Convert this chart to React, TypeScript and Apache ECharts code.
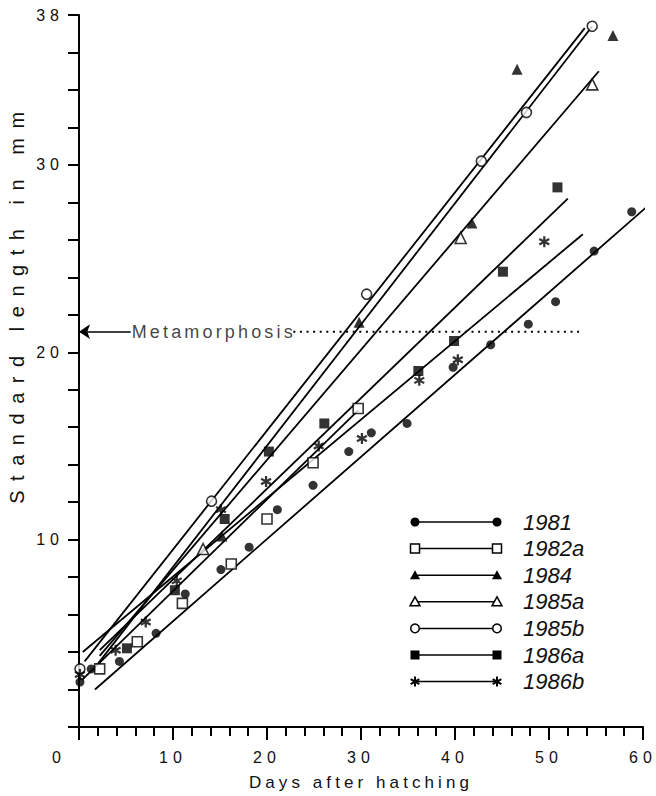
import React, { useEffect, useRef } from 'react';
import * as echarts from 'echarts';

// Year classes shown in the key, top to bottom
const yearLabels = ['1981', '1982a', '1984', '1985a', '1985b', '1986a', '1986b'];

// Standard length (mm) against days after hatching, per year class
const length1981 = [
  [0.1, 2.4], [1.3, 3.1], [4.3, 3.5], [8.2, 5.0], [11.3, 7.1], [15.1, 8.4],
  [18.1, 9.6], [21.1, 11.6], [24.9, 12.9], [28.7, 14.7], [31.1, 15.7], [34.9, 16.2],
  [39.8, 19.2], [43.8, 20.4], [47.8, 21.5], [50.7, 22.7], [54.8, 25.4], [58.8, 27.5],
];
const length1982a = [
  [2.2, 3.1], [6.2, 4.55], [11.0, 6.6], [16.2, 8.7], [20.0, 11.1], [24.9, 14.1], [29.7, 17.0],
];
const length1984 = [[15.2, 10.2], [29.8, 21.6], [41.8, 26.9], [46.6, 35.1], [56.8, 36.9]];
const length1985a = [[13.2, 9.5], [40.6, 26.1], [54.6, 34.3]];
const length1985b = [[0.1, 3.1], [14.1, 12.05], [30.6, 23.1], [42.8, 30.2], [47.6, 32.8], [54.6, 37.4]];
const length1986a = [
  [5.1, 4.2], [10.2, 7.3], [15.5, 11.1], [20.2, 14.7], [26.1, 16.2], [36.1, 19.0],
  [39.9, 20.6], [45.1, 24.3], [50.9, 28.8],
];
const length1986b = [
  [0.1, 2.8], [3.9, 4.1], [7.1, 5.6], [10.4, 7.8], [15.1, 11.6], [19.9, 13.1],
  [25.5, 15.0], [30.1, 15.4], [36.2, 18.5], [40.3, 19.6], [49.5, 25.9],
];

// Fitted growth lines: first and last point of each
const fit1981 = [[1.7, 2.0], [61.4, 28.2]];
const fit1982a = [[0.3, 2.5], [29.7, 16.9]];
const fit1984 = [[0.6, 3.5], [53.8, 37.3]];
const fit1985a = [[2.2, 3.8], [55.3, 35.0]];
const fit1985b = [[1.9, 3.3], [54.6, 37.4]];
const fit1986a = [[2.2, 4.1], [52.0, 28.2]];
const fit1986b = [[0.4, 4.0], [53.6, 26.3]];

// Axis ticks
const xTickValues = [0, 10, 20, 30, 40, 50, 60];
const yTickLabels = [10, 20, 30, 38];

// Length at metamorphosis and the extent of its marker line
const metamorphosisLength = 21.1;
const metamorphosisDotted = [22.8, 53.3];
const metamorphosisArrow = [5.5, 0];
const metamorphosisLabelDay = 5.6;

const measured = [length1981, length1982a, length1984, length1985a, length1985b, length1986a, length1986b];
const fitted = [fit1981, fit1982a, fit1984, fit1985a, fit1985b, fit1986a, fit1986b];
const markerKinds = ['dot', 'openSquare', 'triangle', 'openTriangle', 'openCircle', 'square', 'asterisk'];

const FONT = '"Liberation Sans", Arial, Helvetica, sans-serif';
const INK = '#000';
const TEXT_INK = '#111';

// Six-armed asterisk, centred on the origin
const ASTERISK =
  'M-2,-10L2,-10L2,10L-2,10Z' +
  'M-9.66,-3.27L-7.66,-6.73L9.66,3.27L7.66,6.73Z' +
  'M7.66,-6.73L9.66,-3.27L-7.66,6.73L-9.66,3.27Z';

echarts.graphic.registerShape('asterisk', echarts.graphic.extendPath(ASTERISK, {}));

function symbolFor(kind: string) {
  const open = { color: '#fff', borderColor: INK, borderWidth: 1.6 };
  const solid = { color: INK, borderWidth: 0 };
  switch (kind) {
    case 'dot': return { symbol: 'circle', symbolSize: 9, itemStyle: solid };
    case 'openSquare': return { symbol: 'rect', symbolSize: 10, itemStyle: open };
    case 'triangle': return { symbol: 'triangle', symbolSize: 11, itemStyle: solid };
    case 'openTriangle': return { symbol: 'triangle', symbolSize: 11, itemStyle: open };
    case 'openCircle': return { symbol: 'circle', symbolSize: 10, itemStyle: open };
    case 'square': return { symbol: 'rect', symbolSize: 10, itemStyle: solid };
    default: return { symbol: 'path://' + ASTERISK, symbolSize: 11, itemStyle: solid };
  }
}

function keyMarker(kind: string, x: number, y: number): any {
  const open = { fill: '#fff', stroke: INK, lineWidth: 1.5 };
  const solid = { fill: INK };
  switch (kind) {
    case 'dot': return { type: 'circle', shape: { cx: x, cy: y, r: 4.5 }, style: solid, z: 20 };
    case 'openCircle': return { type: 'circle', shape: { cx: x, cy: y, r: 4.3 }, style: open, z: 20 };
    case 'openSquare': return { type: 'rect', shape: { x: x - 4.5, y: y - 4.5, width: 9, height: 9 }, style: open, z: 20 };
    case 'square': return { type: 'rect', shape: { x: x - 4.5, y: y - 4.5, width: 9, height: 9 }, style: solid, z: 20 };
    case 'triangle': return { type: 'polygon', shape: { points: [[x, y - 5], [x + 5, y + 4], [x - 5, y + 4]] }, style: solid, z: 20 };
    case 'openTriangle': return { type: 'polygon', shape: { points: [[x, y - 5], [x + 5, y + 4], [x - 5, y + 4]] }, style: open, z: 20 };
    default: return { type: 'asterisk', x, y, scaleX: 0.5, scaleY: 0.5, style: solid, z: 20 };
  }
}

// Key in the lower right corner
const KEY_TOP = 522;
const KEY_STEP = 26.6;
const KEY_LEFT = 415;
const KEY_RIGHT = 497;
const KEY_TEXT = 523;

function buildGraphics() {
  const els: any[] = [];
  yearLabels.forEach((label, i) => {
    const y = KEY_TOP + i * KEY_STEP;
    els.push({ type: 'line', shape: { x1: KEY_LEFT, y1: y, x2: KEY_RIGHT, y2: y }, style: { stroke: INK, lineWidth: 1.5 }, z: 19 });
    els.push(keyMarker(markerKinds[i], KEY_LEFT, y));
    els.push(keyMarker(markerKinds[i], KEY_RIGHT, y));
    els.push({
      type: 'text', x: KEY_TEXT, y, z: 20,
      style: {
        text: label, fontSize: 22, fontStyle: 'italic', fontFamily: FONT, fill: TEXT_INK,
        align: 'left', verticalAlign: 'middle', textAlign: 'left', textVerticalAlign: 'middle',
      },
    });
  });
  // Vertical axis title, set higher than the axis middle
  els.push({
    type: 'text', x: 17, y: 303, rotation: Math.PI / 2, z: 20,
    style: {
      text: 'Standard length in mm', fontSize: 20, fontFamily: FONT, fill: TEXT_INK,
      align: 'center', verticalAlign: 'middle', textAlign: 'center', textVerticalAlign: 'middle',
    },
  });
  return els;
}

const tickStrings = new Set([...xTickValues, ...yTickLabels].map(String));

// Printed widths of the letter-spaced titles, in pixels
const spacedWidths: Record<string, number> = {
  'Standard length in mm': 392,
  'Days after hatching': 220,
  'Metamorphosis': 161,
};

// Widen the spacing of the axis texts, as in the printed figure
function spaceLetters(root: HTMLElement) {
  root.querySelectorAll('text').forEach((t) => {
    const s = (t.textContent || '').trim();
    if (spacedWidths[s] !== undefined) {
      t.removeAttribute('letter-spacing');
      let natural = 0;
      try { natural = (t as SVGTextElement).getComputedTextLength(); } catch (e) { natural = 0; }
      const ls = natural > 0 ? (spacedWidths[s] - natural) / (s.length - 1) : 4;
      t.setAttribute('letter-spacing', String(Math.max(0, ls)));
    } else if (tickStrings.has(s)) {
      t.setAttribute('letter-spacing', '5');
    }
  });
}

export default function App() {
  const ref = useRef<HTMLDivElement>(null);

  useEffect(() => {
    if (!ref.current) return;
    const chart = echarts.init(ref.current, null, { renderer: 'svg' });

    const series: any[] = [];
    yearLabels.forEach((name, i) => {
      series.push({
        name: name + ' fit', type: 'line', data: fitted[i], symbol: 'none', clip: false, silent: true,
        lineStyle: { color: INK, width: 1.8 }, z: 2,
      });
      series.push({ name, type: 'scatter', data: measured[i], ...symbolFor(markerKinds[i]), z: 3 });
    });

    series.push({
      name: 'Metamorphosis', type: 'line', silent: true, symbol: 'none', z: 2,
      data: metamorphosisDotted.map((d) => [d, metamorphosisLength]),
      lineStyle: { color: INK, width: 2, type: [2, 4.6] },
      markLine: {
        silent: true, symbol: ['none', 'arrow'], symbolSize: 11,
        label: { show: false },
        lineStyle: { color: INK, width: 1.5, type: 'solid' },
        data: [[
          { coord: [metamorphosisArrow[0], metamorphosisLength] },
          { coord: [metamorphosisArrow[1], metamorphosisLength] },
        ]],
      },
    });
    series.push({
      name: 'Metamorphosis label', type: 'scatter', silent: true, z: 4,
      data: [[metamorphosisLabelDay, metamorphosisLength]],
      symbolSize: 0.1, itemStyle: { color: 'rgba(0,0,0,0)' },
      label: {
        show: true, position: 'right', distance: 0, formatter: 'Metamorphosis',
        fontSize: 18, color: TEXT_INK, fontFamily: FONT,
      },
    });

    chart.setOption({
      animation: false,
      backgroundColor: '#fff',
      grid: { left: 79, right: 13, top: 15, bottom: 69, outerBoundsMode: 'none' },
      xAxis: {
        type: 'value', min: 0, max: 60, interval: 10,
        name: 'Days after hatching', nameLocation: 'middle', nameGap: 47, nameMoveOverlap: false,
        nameTextStyle: { fontSize: 17, color: TEXT_INK, fontFamily: FONT },
        axisLine: { show: true, onZero: false, lineStyle: { color: INK, width: 2 } },
        axisTick: { show: true, length: 13, lineStyle: { color: INK, width: 2 } },
        minorTick: { show: true, splitNumber: 5, length: 9, lineStyle: { color: INK, width: 2 } },
        splitLine: { show: false },
        minorSplitLine: { show: false },
        axisLabel: {
          margin: 22, fontSize: 16, color: TEXT_INK, fontFamily: FONT,
          formatter: (v: number) => (v === 0 ? '{z|0}' : String(v)),
          rich: { z: { fontSize: 16, color: TEXT_INK, fontFamily: FONT, padding: [0, 40, 0, 0] } },
        },
      },
      yAxis: {
        type: 'value', min: 0, max: 38, interval: 2,
        axisLine: { show: true, onZero: false, lineStyle: { color: INK, width: 2 } },
        axisTick: { show: true, length: 11, lineStyle: { color: INK, width: 2 } },
        splitLine: { show: false },
        axisLabel: {
          margin: 15, fontSize: 16, color: TEXT_INK, fontFamily: FONT,
          formatter: (v: number) => (yTickLabels.includes(v) ? String(v) : ''),
        },
      },
      series,
      graphic: buildGraphics(),
    });

    const el = ref.current;
    spaceLetters(el);
    const onFinished = () => spaceLetters(el);
    chart.on('finished', onFinished);
    const raf = requestAnimationFrame(() => spaceLetters(el));

    return () => {
      cancelAnimationFrame(raf);
      chart.off('finished', onFinished);
      chart.dispose();
    };
  }, []);

  return (
    <div
      ref={ref}
      style={{ position: 'fixed', left: 0, top: 0, width: 656, height: 796, background: '#fff' }}
    />
  );
}
